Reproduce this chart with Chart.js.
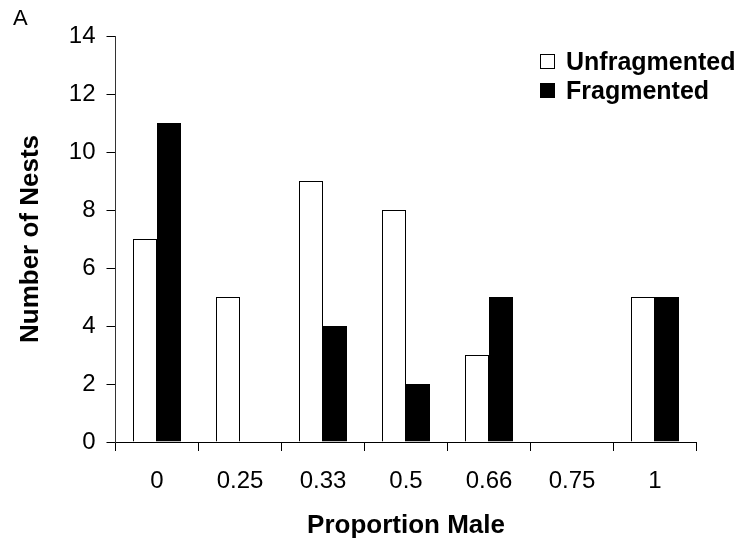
<!DOCTYPE html>
<html>
<head>
<meta charset="utf-8">
<script src="https://cdn.jsdelivr.net/npm/chart.js@4.4.1/dist/chart.umd.min.js"></script>
<style>
html,body{margin:0;padding:0;background:#fff;}
#wrap{position:relative;width:739px;height:547px;}
</style>
</head>
<body>
<div id="wrap"><canvas id="c" width="739" height="547"></canvas></div>
<script>
const categories = ['0', '0.25', '0.33', '0.5', '0.66', '0.75', '1'];
const unfragmented = [7, 5, 9, 8, 3, 0, 5];
const fragmented = [11, 0, 4, 2, 5, 0, 5];
const yTicks = [0, 2, 4, 6, 8, 10, 12, 14];

const FONT = "'Liberation Sans', Arial, sans-serif";

const legendPlugin = {
  id: 'customLegend',
  afterDraw(chart) {
    const ctx = chart.ctx;
    ctx.save();
    const items = chart.data.datasets;
    const boxX = 540, textX = 566;
    const baselines = [70, 99];
    ctx.font = "bold 25px " + FONT;
    ctx.textBaseline = 'alphabetic';
    ctx.textAlign = 'left';
    items.forEach((ds, i) => {
      const by = baselines[i] - 16;
      ctx.fillStyle = ds.backgroundColor;
      ctx.fillRect(boxX, by, 15, 15);
      ctx.strokeStyle = '#000';
      ctx.lineWidth = 1;
      ctx.strokeRect(boxX + 0.5, by + 0.5, 14, 14);
      ctx.fillStyle = '#000';
      ctx.fillText(ds.label, textX, baselines[i]);
    });
    // panel letter
    ctx.font = "22px " + FONT;
    ctx.fillText('A', 13, 25);
    ctx.restore();
  }
};

new Chart(document.getElementById('c'), {
  type: 'bar',
  data: {
    labels: categories,
    datasets: [
      { label: 'Unfragmented', data: unfragmented, backgroundColor: '#ffffff', borderColor: '#000000', borderWidth: 1 },
      { label: 'Fragmented', data: fragmented, backgroundColor: '#000000', borderColor: '#000000', borderWidth: 1 }
    ]
  },
  options: {
    responsive: false,
    animation: false,
    devicePixelRatio: 1,
    layout: { padding: { top: 36, right: 42.5, left: 0, bottom: 0 } },
    datasets: { bar: { barPercentage: 1.0, categoryPercentage: 48 / 83 } },
    plugins: { legend: { display: false }, tooltip: { enabled: false } },
    scales: {
      x: {
        offset: true,
        grid: { display: true, offset: true, drawOnChartArea: false, drawTicks: true, tickLength: 9, color: '#000', lineWidth: 1 },
        border: { display: true, color: '#000', width: 1 },
        ticks: { color: '#000', font: { family: FONT, size: 24 }, padding: 16, maxRotation: 0, autoSkip: false },
        title: { display: true, text: 'Proportion Male', color: '#000', font: { family: FONT, size: 26, weight: 'bold' }, padding: { top: 0, bottom: 6 } },
        afterFit(scale) { scale.height = 105; }
      },
      y: {
        min: 0, max: 14,
        afterBuildTicks(scale) { scale.ticks = yTicks.map(v => ({ value: v })); },
        grid: { display: true, drawOnChartArea: false, drawTicks: true, tickLength: 9, color: '#000', lineWidth: 1 },
        border: { display: true, color: '#333', width: 1 },
        ticks: { color: '#000', font: { family: FONT, size: 24 }, padding: 11 },
        title: { display: true, text: 'Number of Nests', color: '#000', font: { family: FONT, size: 26, weight: 'bold' }, padding: { top: 15, bottom: 0 } },
        afterFit(scale) { scale.width = 115.5; }
      }
    }
  },
  plugins: [legendPlugin]
});
</script>
</body>
</html>
